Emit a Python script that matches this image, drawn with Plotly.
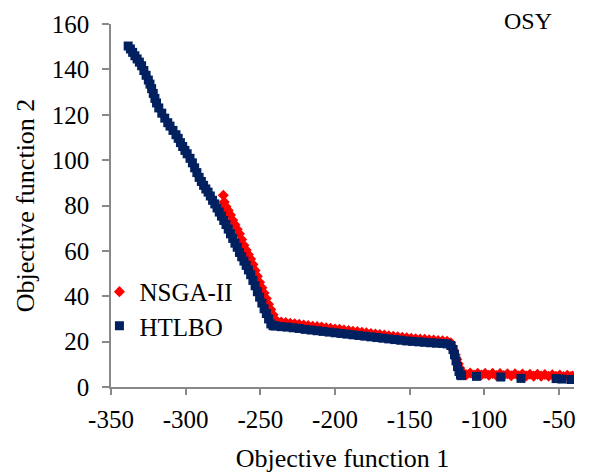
import plotly.graph_objects as go

# NSGA-II (red diamonds)
nsga_x = [-274.8, -274.2, -273, -271.5, -270, -268.5, -267, -265.5, -264, -262.5,
          -261, -259.5, -258, -256.5, -255, -253.5, -252, -250.5, -249, -247.5,
          -246, -244.5, -243, -241.5, -240, -238.5,
          -236, -233, -230, -227, -224, -221, -218, -215, -212, -209,
          -206, -203, -200, -197, -194, -191, -188, -185, -182, -179,
          -176, -173, -170, -167, -164, -161, -158, -155, -152, -149,
          -146, -143, -140, -137, -134, -131, -128, -125,
          -122.5, -121.5, -120.5, -119.5, -118.5, -117.5, -116.5, -115.5,
          -114.5, -112, -109.5, -107, -104.5, -102, -99.5, -97, -94.5, -92,
          -89.5, -87, -84.5, -82, -79.5, -77, -74.5, -72, -69.5, -67,
          -64.5, -62, -59.5, -57, -54.5, -52, -49.5, -47, -44.5, -42, -40.8]
nsga_y = [84.5, 81.5, 79.5, 77.8, 75.8, 73.5, 71.5, 69.5, 67.5, 65,
          62.5, 60.4, 58.4, 56.4, 54, 51.4, 48.8, 46.2, 43.8, 41.4,
          39, 36.5, 34.2, 31.8, 29.6, 28.8,
          28.6, 28.4, 28.1, 27.9, 27.6, 27.3, 27.1, 26.8, 26.6, 26.4,
          26.1, 25.9, 25.6, 25.4, 25.1, 24.9, 24.6, 24.4, 24.1, 23.9,
          23.6, 23.4, 23.1, 22.9, 22.6, 22.4, 22.1, 21.9, 21.7, 21.5,
          21.3, 21.1, 21.0, 20.8, 20.7, 20.5, 20.4, 20.2,
          19.5, 18.0, 16.2, 14.2, 12.2, 10.2, 8.4, 7.0,
          6.3, 5.4, 6.2, 5.3, 6.1, 5.3, 6.0, 5.2, 6.0, 5.1,
          5.9, 5.1, 5.8, 5.0, 5.8, 4.9, 5.7, 4.9, 5.6, 4.8,
          5.6, 4.8, 5.5, 4.7, 5.4, 4.7, 5.3, 4.6, 5.2, 4.6, 4.8]

# HTLBO (navy squares)
htlbo_x = [-338.5, -337, -335.5, -334, -332.5, -331, -329.5, -328, -326.5, -325,
           -323.9, -322.8, -321.7, -320.6, -319.5, -318, -316, -314, -312, -310.5,
           -308.5, -306.5, -305, -303.5, -302, -300.5, -299, -297.1, -295.5, -294,
           -292.5, -291, -289.5, -288, -286.5, -285, -283.5, -282, -280.5, -279,
           -277.5, -276, -274.5, -273, -271.5, -270, -268.5, -267, -265.5, -264,
           -262.5, -261, -259.5, -258, -256.5, -255, -253.5, -252, -250.5, -249,
           -247.5, -246, -244.5, -243, -241.5,
           -240, -236, -232, -228, -224, -220, -216, -212, -208, -204,
           -200, -196, -192, -188, -184, -180, -176, -172, -168, -164,
           -160, -156, -152, -148, -144, -140, -136, -132, -128, -125,
           -122.5, -121, -120, -119, -118, -117, -116, -115.3,
           -105.3, -89, -75.5, -52, -48, -42]
htlbo_y = [150.3, 149, 147.5, 146, 144.6, 143.2, 141.6, 139.5, 137.4, 135.3,
           133.5, 131.5, 129.4, 127.2, 125.2, 123, 120.7, 118.5, 116.5, 115,
           113.1, 111.2, 109.6, 107.7, 106, 104.3, 102.8, 100.8, 98.8, 96.6,
           94.5, 92.4, 90.6, 88.9, 87.3, 85.9, 84.2, 82.3, 80.7, 78.9,
           77.1, 75.3, 73.4, 71.6, 69.6, 67.5, 65.5, 63.4, 61.6, 59.3,
           57.4, 55.5, 53.6, 51.6, 49.5, 47, 44.6, 42, 39.6, 37,
           34.5, 32.4, 30, 27.8, 27,
           26.9, 26.6, 26.4, 26.1, 25.8, 25.4, 25.1, 24.8, 24.5, 24.2,
           23.9, 23.6, 23.3, 23, 22.7, 22.4, 22.1, 21.8, 21.5, 21.2,
           20.9, 20.6, 20.3, 20.1, 19.9, 19.7, 19.5, 19.3, 19.2, 19,
           18.3, 16.5, 14.2, 11.5, 9, 6.8, 5.3, 5.0,
           4.7, 4.4, 3.8, 3.7, 3.5, 3.3]

x_ticks = [-350, -300, -250, -200, -150, -100, -50]
y_ticks = [0, 20, 40, 60, 80, 100, 120, 140, 160]

FONT = "Liberation Serif"
AXIS_COLOR = "#898989"

fig = go.Figure()
fig.add_trace(go.Scatter(
    x=nsga_x, y=nsga_y, mode="markers", name="NSGA-II", legend="legend",
    marker=dict(symbol="diamond", size=8.5, color="#ff0000", line=dict(width=0)),
))
fig.add_trace(go.Scatter(
    x=htlbo_x, y=htlbo_y, mode="markers", name="HTLBO", legend="legend2",
    marker=dict(symbol="square", size=9, color="#002060", line=dict(width=0)),
))

legend_style = dict(xanchor="left", yanchor="middle",
                    font=dict(family=FONT, size=25, color="black"),
                    bgcolor="rgba(0,0,0,0)")

fig.update_layout(
    width=594, height=473,
    margin=dict(l=111, r=20, t=24, b=86, autoexpand=False),
    paper_bgcolor="white", plot_bgcolor="white",
    font=dict(family=FONT, color="black", size=25),
    showlegend=True,
    legend=dict(x=-0.025, y=0.262, **legend_style),
    legend2=dict(x=-0.025, y=0.168, **legend_style),
    annotations=[dict(text="OSY", xref="paper", yref="paper", x=0.9, y=1.007,
                      xanchor="center", yanchor="middle", showarrow=False,
                      font=dict(family=FONT, size=24, color="black"))],
)
fig.update_xaxes(
    range=[-350, -40], tickvals=x_ticks, ticktext=[str(v) for v in x_ticks],
    automargin=False,
    showgrid=False, zeroline=False, showline=True, linecolor=AXIS_COLOR, linewidth=1.5,
    ticks="outside", ticklen=6, tickwidth=1.5, tickcolor=AXIS_COLOR,
    tickfont=dict(family=FONT, size=25, color="black"), ticklabelstandoff=3,
    title=dict(text="Objective function 1", font=dict(family=FONT, size=26, color="black"), standoff=18),
)
fig.update_yaxes(
    range=[0, 160], tickvals=y_ticks, ticktext=[str(v) for v in y_ticks],
    automargin=False,
    showgrid=False, zeroline=False, showline=True, linecolor=AXIS_COLOR, linewidth=1.5,
    ticks="outside", ticklen=7, tickwidth=1.5, tickcolor=AXIS_COLOR,
    tickfont=dict(family=FONT, size=25, color="black"), ticklabelstandoff=8,
    title=dict(text="Objective function 2", font=dict(family=FONT, size=26, color="black"), standoff=10),
)

fig.write_html("out.html")
